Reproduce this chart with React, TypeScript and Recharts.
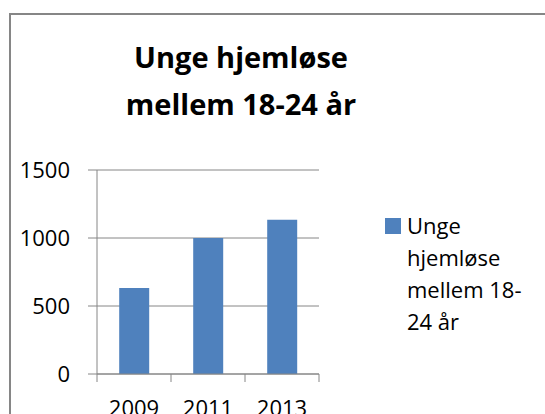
import { BarChart, Bar, XAxis, YAxis, CartesianGrid, Legend } from 'recharts'

const years = ['2009', '2011', '2013']
const homeless = [632, 1000, 1135]
const yTicks = [0, 500, 1000, 1500]
const seriesName = 'Unge hjemløse mellem 18-24 år'
const titleLines = ['Unge hjemløse', 'mellem 18-24 år']

const data = years.map((year, i) => ({ year, value: homeless[i] }))

const FONT = '"Open Sans", sans-serif'
const GRAY = '#868686'
const BLUE = '#4F81BD'
const TICK_LEN = 8
const TICK_GAP = 18

function YearTick(props: any) {
  const { x, y, payload, index } = props
  const half = payload?.offset ?? 0
  const axisY = y - TICK_LEN - TICK_GAP
  return (
    <g>
      {index === 0 && (
        <line x1={x - half} x2={x - half} y1={axisY} y2={axisY + TICK_LEN} stroke={GRAY} />
      )}
      <line x1={x + half} x2={x + half} y1={axisY} y2={axisY + TICK_LEN} stroke={GRAY} />
      <text x={x} y={y} dy="0.71em" textAnchor="middle" fill="#000" fontSize={22} fontFamily={FONT}>
        {payload.value}
      </text>
    </g>
  )
}

function LegendBox() {
  return (
    <div style={{ display: 'flex', alignItems: 'flex-start', fontFamily: FONT, fontSize: 22, lineHeight: '32px', color: '#000' }}>
      <span style={{ width: 16, height: 16, background: BLUE, marginTop: 9, marginRight: 6, flexShrink: 0 }} />
      <span style={{ width: 130 }}>{seriesName}</span>
    </div>
  )
}

export default function App() {
  return (
    <div style={{ position: 'absolute', left: 0, top: 0, width: 545, height: 414, overflow: 'hidden', background: '#fff' }}>
      <div style={{ position: 'absolute', left: 9, top: 13, width: 600, height: 500, border: `2px solid ${GRAY}` }} />
      <div
        style={{
          position: 'absolute', left: 0, top: 33, width: 482, textAlign: 'center',
          fontFamily: FONT, fontWeight: 700, fontSize: 29, lineHeight: '47px', color: '#000',
        }}
      >
        {titleLines.map((l) => (
          <div key={l}>{l}</div>
        ))}
      </div>
      <div style={{ position: 'absolute', left: 0, top: 0 }}>
        <BarChart width={545} height={414} data={data} margin={{ top: 170, right: 226, bottom: 0, left: 0 }} barCategoryGap="30%">
          <CartesianGrid vertical={false} stroke={GRAY} />
          <XAxis
            dataKey="year"
            height={40}
            axisLine={{ stroke: GRAY }}
            tickLine={false}
            tickSize={TICK_LEN}
            tickMargin={TICK_GAP}
            tick={<YearTick />}
            interval={0}
          />
          <YAxis
            width={97}
            domain={[0, 1500]}
            ticks={yTicks}
            interval={0}
            axisLine={{ stroke: GRAY }}
            tickLine={{ stroke: GRAY }}
            tickSize={9}
            tickMargin={18}
            tick={{ fill: '#000', fontSize: 22, fontFamily: FONT }}
          />
          <Legend
            layout="vertical"
            align="center"
            verticalAlign="middle"
            content={() => <LegendBox />}
            wrapperStyle={{ position: 'absolute', left: 385, top: 209, width: 160 }}
          />
          <Bar dataKey="value" name={seriesName} fill={BLUE} isAnimationActive={false} />
        </BarChart>
      </div>
    </div>
  )
}
